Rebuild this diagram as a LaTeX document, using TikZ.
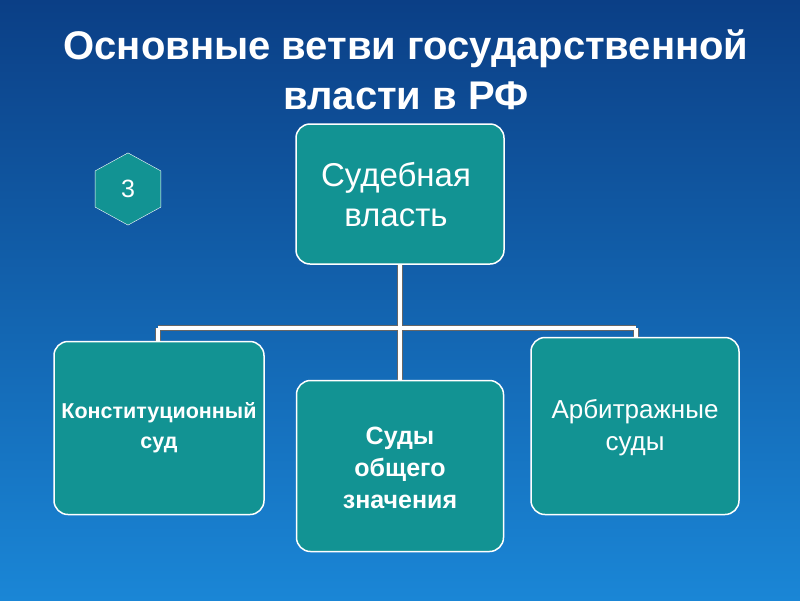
\documentclass[tikz,border=0pt]{standalone}
\usepackage{fontspec}
\setmainfont{Liberation Sans}
\usetikzlibrary{shapes.geometric}
\definecolor{bgtop}{HTML}{0B3F86}
\definecolor{bgbot}{HTML}{1A86D6}
\definecolor{teal}{HTML}{129393}
\begin{document}
\begin{tikzpicture}[x=1pt,y=-1pt,
  box/.style={draw=white,line width=1.5pt,fill=teal,rounded corners=14pt,text=white,align=center},
  conn/.style={white,line width=4pt},
  connb/.style={black!60,line width=6pt}]
\useasboundingbox (0,0) rectangle (800,600);
\shade[top color=bgtop,bottom color=bgbot] (0,0) rectangle (800,600);
\node (title)[text=white,font=\bfseries\fontsize{40}{50}\selectfont,align=center] at (406,70) {Основные ветви  государственной\\власти в РФ};
\node (hex)[regular polygon,regular polygon sides=6,shape border rotate=90,minimum size=76pt,draw=white!80,fill=teal,text=white,inner sep=0pt,yscale=0.95] at (128,189) {};
\node at (128,189) [text=white,font=\fontsize{25}{30}\selectfont] {3};
\coordinate (top) at (400,264);
\coordinate (j) at (400,328);
\coordinate (l) at (158,328);
\coordinate (r) at (636,328);
\coordinate (lb) at (158,343);
\coordinate (rb) at (636,340);
\coordinate (mb) at (400,381);
\draw[connb] (top) -- (mb) (l) -- (r) (l) -- (lb) (r) -- (rb);
\draw[conn] (top) -- (mb) (l) -- (r) (l) -- (lb) (r) -- (rb);
\node (sud)[box,minimum width=208pt,minimum height=140pt] at (400,194) {};
\node[text=white,font=\fontsize{33}{40}\selectfont,align=center] at (396,195) {Судебная\\ власть};
\node (ks)[box,minimum width=210pt,minimum height=173pt] at (159,428) {};
\node[text=white,font=\bfseries\fontsize{21.5}{30}\selectfont,align=center] at (159,428) {Конституционный\\суд};
\node (so)[box,minimum width=207pt,minimum height=171pt] at (400,466) {};
\node[text=white,font=\bfseries\fontsize{25}{32}\selectfont,align=center] at (400,468) {Суды\\общего\\значения};
\node (as)[box,minimum width=208pt,minimum height=177pt] at (635,426) {};
\node[text=white,font=\fontsize{26}{32}\selectfont,align=center] at (635,428) {Арбитражные\\суды};
\end{tikzpicture}
\end{document}
